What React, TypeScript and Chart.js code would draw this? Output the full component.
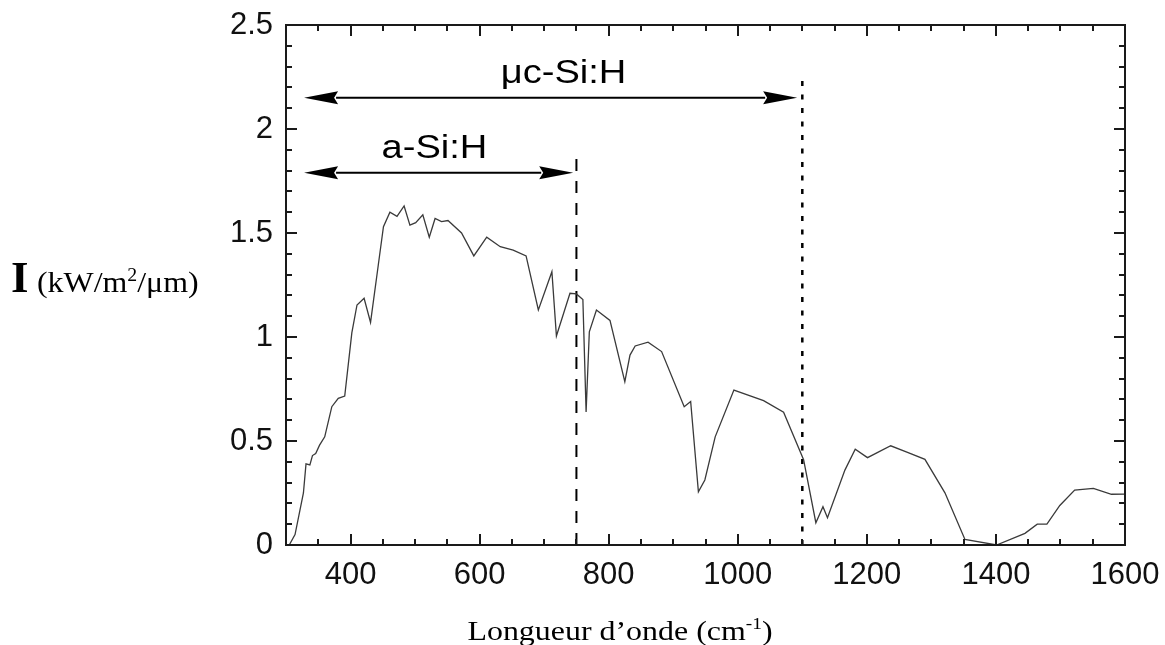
import React, { useEffect, useRef } from "react";
import { Chart, registerables } from "chart.js";

Chart.register(...registerables);

// ---- data ----
const wavelength = [
  305, 314, 327, 331, 337, 341, 346, 352, 360, 371, 381, 391, 402, 410, 421, 431,
  443, 451, 461, 472, 483, 492, 501, 512, 522, 531, 541, 551, 572, 591, 611, 632,
  652, 672, 691, 712, 719, 740, 750, 760, 765, 770, 781, 802, 825, 833, 841, 861,
  882, 917, 927, 939, 949, 965, 994, 1040, 1071, 1102, 1121, 1132, 1139, 1166, 1182,
  1201, 1237, 1264, 1290, 1321, 1352, 1401, 1445, 1464, 1479, 1499, 1522, 1551, 1579, 1600,
];
const irradiance = [
  0, 0.05, 0.25, 0.39, 0.385, 0.43, 0.44, 0.48, 0.52, 0.665, 0.705, 0.716, 1.02, 1.154, 1.186, 1.07,
  1.346, 1.53, 1.6, 1.58, 1.63, 1.538, 1.55, 1.587, 1.48, 1.57, 1.555, 1.56, 1.5, 1.39, 1.48, 1.434,
  1.418, 1.39, 1.13, 1.314, 1.005, 1.21, 1.207, 1.18, 0.64, 1.025, 1.13, 1.08, 0.785, 0.913, 0.957, 0.975,
  0.93, 0.665, 0.69, 0.256, 0.3125, 0.52, 0.745, 0.694, 0.638, 0.41, 0.107, 0.184, 0.131, 0.36, 0.46,
  0.42, 0.477, 0.444, 0.412, 0.251, 0.027, 0.0, 0.056, 0.1, 0.1, 0.19, 0.264, 0.272, 0.244, 0.245,
];

const xRange = [300, 1600];
const yRange = [0, 2.5];
const xTickValues = [400, 600, 800, 1000, 1200, 1400, 1600];
const yTickValues = [0, 0.5, 1, 1.5, 2, 2.5];
const xMinorStep = 50;
const xMajorStep = 200;
const yMinorStep = 0.1;
const yMajorStep = 0.5;

// band limits (vertical lines)
const cutoffX = [750, 1100];
const cutoffTop = [1.87, 2.27];

// arrows with labels
const arrowLabels = ["μc-Si:H", "a-Si:H"];
const arrowStartX = [328, 328];
const arrowEndX = [1092, 745];
const arrowY = [2.15, 1.79];
const labelX = [730, 530];
const labelY = [2.221, 1.86];

const xTitle = ["Longueur d’onde (cm", "-1", ")"];
const yTitle = ["I", "(kW/m", "2", "/μm)"];

type Run = { text: string; font: string; dy: number };

function drawRuns(ctx: CanvasRenderingContext2D, runs: Run[], x: number, baseline: number, sx: number, align: "left" | "center") {
  let total = 0;
  const widths = runs.map((r) => {
    ctx.font = r.font;
    const w = ctx.measureText(r.text).width * sx;
    total += w;
    return w;
  });
  let cx = align === "center" ? x - total / 2 : x;
  ctx.textAlign = "left";
  ctx.textBaseline = "alphabetic";
  runs.forEach((r, i) => {
    ctx.save();
    ctx.font = r.font;
    ctx.translate(cx, baseline + r.dy);
    ctx.scale(sx, 1);
    ctx.fillText(r.text, 0, 0);
    ctx.restore();
    cx += widths[i];
  });
}

const decorPlugin = {
  id: "decor",
  afterDraw(chart: any) {
    const { ctx, chartArea: a } = chart;
    const xs = chart.scales.x;
    const ys = chart.scales.y;
    ctx.save();
    ctx.strokeStyle = "#1a1a1a";
    ctx.fillStyle = "#000";
    ctx.lineWidth = 2;
    ctx.lineCap = "butt";

    // inward tick marks on all four sides
    const nx = Math.round((xRange[1] - xRange[0]) / xMinorStep);
    for (let i = 1; i < nx; i++) {
      const v = xRange[0] + i * xMinorStep;
      const px = Math.round(xs.getPixelForValue(v));
      const len = v % xMajorStep === 0 ? 11 : 6;
      ctx.beginPath();
      ctx.moveTo(px, a.bottom);
      ctx.lineTo(px, a.bottom - len);
      ctx.moveTo(px, a.top);
      ctx.lineTo(px, a.top + len);
      ctx.stroke();
    }
    const ny = Math.round((yRange[1] - yRange[0]) / yMinorStep);
    for (let i = 1; i < ny; i++) {
      const v = yRange[0] + i * yMinorStep;
      const py = Math.round(ys.getPixelForValue(v));
      const major = Math.abs(v / yMajorStep - Math.round(v / yMajorStep)) < 1e-6;
      const len = major ? 11 : 6;
      ctx.beginPath();
      ctx.moveTo(a.left, py);
      ctx.lineTo(a.left + len, py);
      ctx.moveTo(a.right, py);
      ctx.lineTo(a.right - len, py);
      ctx.stroke();
    }

    // frame
    ctx.strokeRect(a.left, a.top, a.right - a.left, a.bottom - a.top);

    // arrows
    ctx.strokeStyle = "#000";
    arrowLabels.forEach((label, i) => {
      const x0 = xs.getPixelForValue(arrowStartX[i]);
      const x1 = xs.getPixelForValue(arrowEndX[i]);
      const py = ys.getPixelForValue(arrowY[i]);
      const hl = 34;
      const hw = 6.5;
      ctx.lineWidth = 2;
      ctx.beginPath();
      ctx.moveTo(x0 + hl - 2, py);
      ctx.lineTo(x1 - hl + 2, py);
      ctx.stroke();
      ctx.beginPath();
      ctx.moveTo(x0, py);
      ctx.lineTo(x0 + hl, py - hw);
      ctx.lineTo(x0 + hl - 4, py);
      ctx.lineTo(x0 + hl, py + hw);
      ctx.closePath();
      ctx.fill();
      ctx.beginPath();
      ctx.moveTo(x1, py);
      ctx.lineTo(x1 - hl, py - hw);
      ctx.lineTo(x1 - hl + 4, py);
      ctx.lineTo(x1 - hl, py + hw);
      ctx.closePath();
      ctx.fill();

      drawRuns(
        ctx,
        [{ text: label, font: "34px 'Liberation Sans', Arial, sans-serif", dy: 0 }],
        xs.getPixelForValue(labelX[i]),
        ys.getPixelForValue(labelY[i]),
        1.12,
        "center"
      );
    });

    // axis titles
    const serif = "'Liberation Serif', 'Times New Roman', serif";
    drawRuns(
      ctx,
      [
        { text: xTitle[0], font: `28px ${serif}`, dy: 0 },
        { text: xTitle[1], font: `17px ${serif}`, dy: -11 },
        { text: xTitle[2], font: `28px ${serif}`, dy: 0 },
      ],
      620,
      640,
      1.14,
      "center"
    );
    ctx.save();
    ctx.font = `bold 45px ${serif}`;
    ctx.textAlign = "left";
    ctx.textBaseline = "alphabetic";
    ctx.fillText(yTitle[0], 11, 292);
    ctx.restore();
    drawRuns(
      ctx,
      [
        { text: yTitle[1], font: `29px ${serif}`, dy: 0 },
        { text: yTitle[2], font: `18px ${serif}`, dy: -11 },
        { text: yTitle[3], font: `29px ${serif}`, dy: 0 },
      ],
      37,
      292,
      1.1,
      "left"
    );
    ctx.restore();
  },
};

export default function App() {
  const ref = useRef<HTMLCanvasElement | null>(null);

  useEffect(() => {
    if (!ref.current) return;
    const tickFont = { family: "'Liberation Sans', Arial, sans-serif", size: 31 };
    const chart = new Chart(ref.current, {
      type: "line",
      data: {
        datasets: [
          {
            label: "I",
            data: wavelength.map((w, i) => ({ x: w, y: irradiance[i] })),
            borderColor: "#3a3a3a",
            borderWidth: 1.3,
            pointRadius: 0,
            tension: 0,
            fill: false,
          },
          {
            label: "a-Si:H limit",
            data: [
              { x: cutoffX[0], y: 0 },
              { x: cutoffX[0], y: cutoffTop[0] },
            ],
            borderColor: "#000",
            borderWidth: 2,
            borderDash: [12, 10],
            pointRadius: 0,
            fill: false,
          },
          {
            label: "μc-Si:H limit",
            data: [
              { x: cutoffX[1], y: 0 },
              { x: cutoffX[1], y: cutoffTop[1] },
            ],
            borderColor: "#000",
            borderWidth: 2.5,
            borderDash: [5, 8.5],
            pointRadius: 0,
            fill: false,
          },
        ],
      },
      options: {
        animation: false,
        responsive: false,
        layout: { padding: { top: 25, right: 40, left: 0, bottom: 0 } },
        plugins: { legend: { display: false }, tooltip: { enabled: false } },
        scales: {
          x: {
            type: "linear",
            min: xRange[0],
            max: xRange[1],
            afterBuildTicks: (s: any) => {
              s.ticks = xTickValues.map((v) => ({ value: v }));
            },
            afterFit: (s: any) => {
              s.height = 100;
              s.paddingLeft = 0;
              s.paddingRight = 0;
            },
            grid: { display: false, drawTicks: false },
            border: { display: false },
            ticks: {
              font: tickFont,
              color: "#111",
              padding: 12,
              maxRotation: 0,
              autoSkip: false,
              callback: (v: any) => String(v),
            },
          },
          y: {
            type: "linear",
            min: yRange[0],
            max: yRange[1],
            afterBuildTicks: (s: any) => {
              s.ticks = yTickValues.map((v) => ({ value: v }));
            },
            afterFit: (s: any) => {
              s.width = 286;
              s.paddingTop = 0;
              s.paddingBottom = 0;
            },
            grid: { display: false, drawTicks: false },
            border: { display: false },
            ticks: {
              font: tickFont,
              color: "#111",
              padding: 13,
              autoSkip: false,
              callback: (v: any) => String(v),
            },
          },
        },
      },
      plugins: [decorPlugin],
    });
    return () => chart.destroy();
  }, []);

  return (
    <div style={{ position: "absolute", left: 0, top: 0, width: 1165, height: 645, background: "#fff" }}>
      <canvas ref={ref} width={1165} height={645} style={{ display: "block" }} />
    </div>
  );
}
